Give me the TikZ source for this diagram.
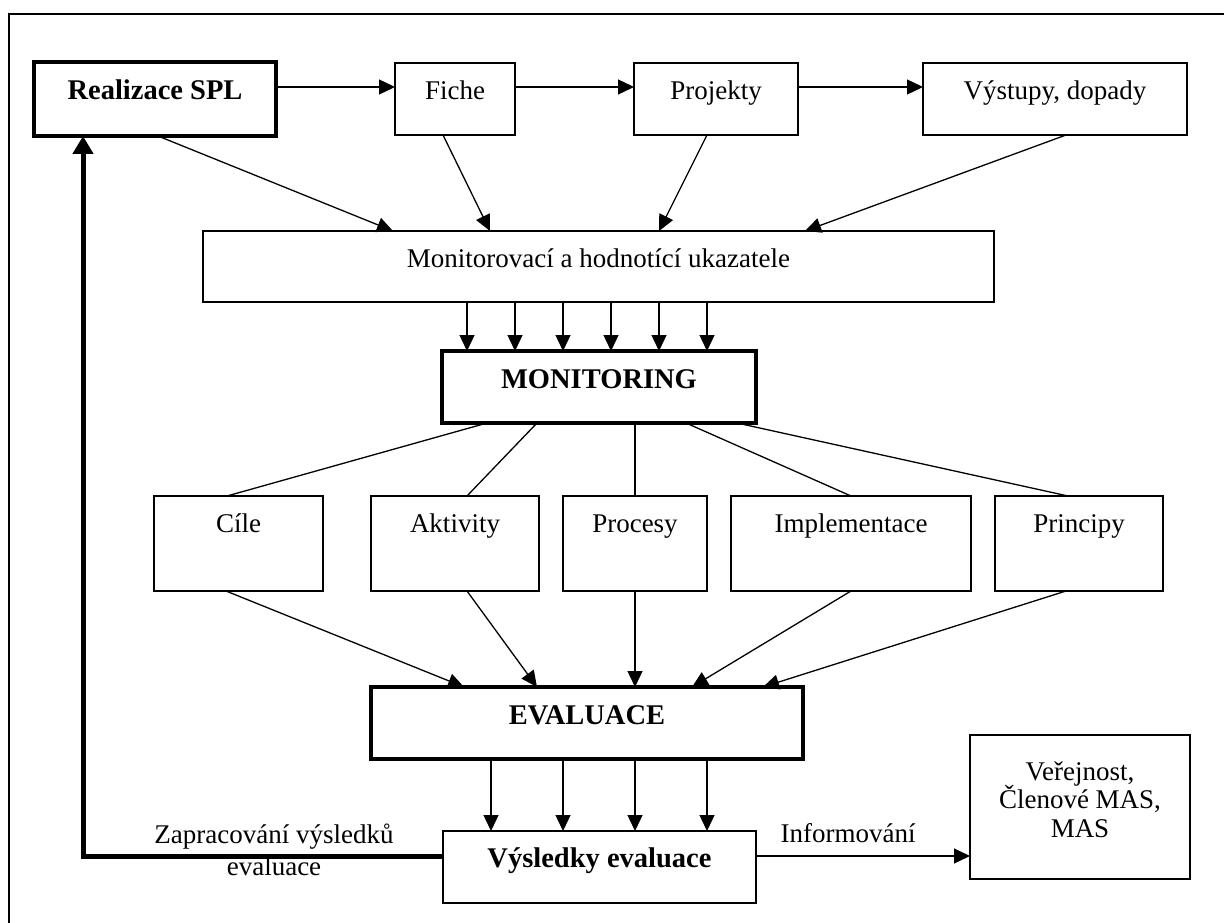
\documentclass[tikz,border=0pt]{standalone}
\usepackage{fontspec}
\setmainfont{Liberation Serif}
\usetikzlibrary{arrows.meta,calc}
\newcommand{\reg}{\fontsize{27}{29}\selectfont}
\newcommand{\bld}{\fontsize{28.5}{30}\selectfont\bfseries}
\newcommand{\mystack}[2]{\vtop{\baselineskip=#1\lineskiplimit=-100pt\halign{\hfil##\hfil\cr#2\crcr}}}
\begin{document}
\begin{tikzpicture}[x=1pt,y=-1pt,
  box/.style={draw, line width=1.3pt, inner sep=0pt, outer sep=0pt, font=\reg},
  thickbox/.style={box, line width=4pt, font=\bld},
  boldbox/.style={box, font=\bld},
  arr/.style={line width=1.3pt, -{Triangle[length=16pt,width=15pt]}},
  ln/.style={line width=1.3pt},
  fb/.style={line width=5pt, -{Triangle[length=18pt,width=20pt]}},
  frame/.style={line width=1.2pt}]
\fill[white] (0,0) rectangle (1224,923);
\useasboundingbox (0,0) rectangle (1224,923);
\draw[frame] (9,923) -- (9,14) -- (1224,14);

% top row
\node[thickbox, minimum width=242pt, minimum height=74pt, text height=38pt, text depth=36pt] (real) at (155,99) {Realizace SPL};
\node[box, minimum width=120pt, minimum height=72pt, text height=37pt, text depth=35pt] (fiche) at (455,99) {Fiche};
\node[box, minimum width=164pt, minimum height=72pt, text height=37pt, text depth=35pt] (proj) at (716,99) {Projekty};
\node[box, minimum width=264pt, minimum height=72pt, text height=37pt, text depth=35pt] (vys) at (1055,99) {Výstupy, dopady};

% indicators
\node[box, minimum width=791pt, minimum height=71pt, text height=36pt, text depth=35pt] (mon) at (598.5,266.5) {Monitorovací a hodnotící ukazatele};
\node[thickbox, minimum width=314pt, minimum height=72pt, text height=37pt, text depth=35pt] (monit) at (599,387) {MONITORING};

% middle row
\node[box, minimum width=169pt, minimum height=95pt, text height=36pt, text depth=59pt] (cile) at (238.5,543.5) {Cíle};
\node[box, minimum width=168pt, minimum height=95pt, text height=36pt, text depth=59pt] (akt) at (455,543.5) {Aktivity};
\node[box, minimum width=144pt, minimum height=95pt, text height=36pt, text depth=59pt] (proc) at (635,543.5) {Procesy};
\node[box, minimum width=240pt, minimum height=95pt, text height=36pt, text depth=59pt] (impl) at (851,543.5) {Implementace};
\node[box, minimum width=168pt, minimum height=95pt, text height=36pt, text depth=59pt] (prin) at (1079,543.5) {Principy};

% evaluation
\node[thickbox, minimum width=432pt, minimum height=72pt, text height=37pt, text depth=35pt] (eval) at (587,723) {EVALUACE};
\node[boldbox, minimum width=313pt, minimum height=72pt, text height=36pt, text depth=36pt] (vysl) at (599.5,867) {Výsledky evaluace};
\node[box, minimum width=220pt, minimum height=144pt, text height=45pt, text depth=99pt] (ver) at (1080,807) {\mystack{28.5pt}{Veřejnost,\cr Členové MAS,\cr MAS}};

% top arrows
\draw[arr] (real.east |- 0,87) -- (fiche.west |- 0,87);
\draw[arr] (fiche.east |- 0,87) -- (proj.west |- 0,87);
\draw[arr] (proj.east |- 0,87) -- (vys.west |- 0,87);

% to indicators
\draw[arr] ([xshift=124pt]real.south west) -- ([xshift=190pt]mon.north west);
\draw[arr] ([xshift=48pt]fiche.south west) -- ([xshift=287pt]mon.north west);
\draw[arr] ([xshift=73pt]proj.south west) -- ([xshift=456pt]mon.north west);
\draw[arr] ([xshift=143pt]vys.south west) -- ([xshift=602pt]mon.north west);

% indicators to monitoring
\foreach \xx in {467,515,563,611,659,707}
  \draw[arr] (mon.south -| \xx,0) -- (monit.north -| \xx,0);

% monitoring to middle row
\draw[ln] ([xshift=45pt]monit.south west) -- ([xshift=73pt]cile.north west);
\draw[ln] ([xshift=95pt]monit.south west) -- ([xshift=96pt]akt.north west);
\draw[ln] (proc.north |- monit.south) -- (proc.north);
\draw[ln] ([xshift=244pt]monit.south west) -- (impl.north);
\draw[ln] ([xshift=295pt]monit.south west) -- ([xshift=73pt]prin.north west);

% middle row to evaluation
\draw[arr] ([xshift=72pt]cile.south west) -- ([xshift=93pt]eval.north west);
\draw[arr] ([xshift=96pt]akt.south west) -- ([xshift=166pt]eval.north west);
\draw[arr] (proc.south) -- (proc.south |- eval.north);
\draw[arr] (impl.south) -- ([xshift=321pt]eval.north west);
\draw[arr] ([xshift=71pt]prin.south west) -- ([xshift=392pt]eval.north west);

% evaluation to results
\foreach \xx in {491,563,635,707}
  \draw[arr] (eval.south -| \xx,0) -- (vysl.north -| \xx,0);

% informing
\draw[arr] (vysl.east |- 0,856) -- (ver.west |- 0,856)
  node[pos=0.43, anchor=base, yshift=14pt, font=\reg, inner sep=0pt] (inf) {Informování};

% feedback
\draw[fb] (vysl.west |- 0,856) -| ([xshift=49pt]real.south west);
\node[anchor=base, inner sep=0pt, font=\reg] (zlab) at (274,843) {\mystack{32pt}{Zapracování výsledků\cr evaluace}};
\end{tikzpicture}
\end{document}
